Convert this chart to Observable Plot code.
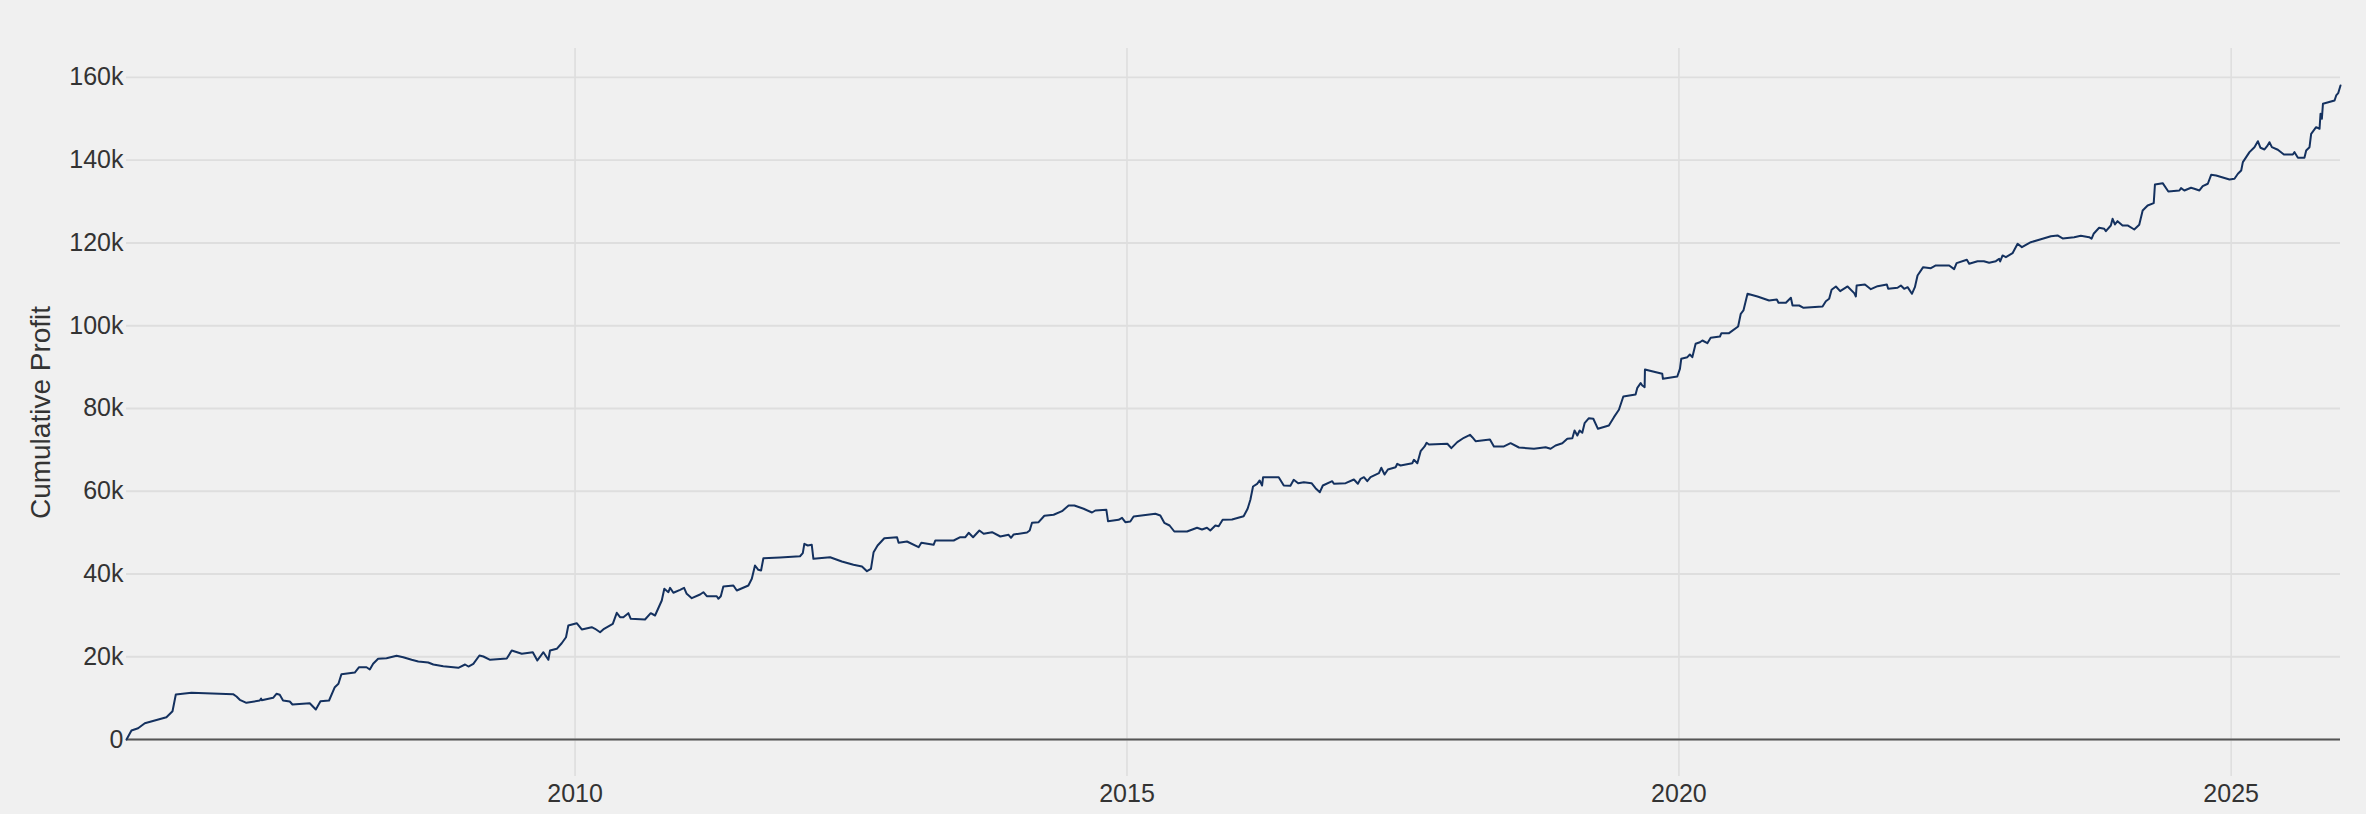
<!DOCTYPE html>
<html>
<head>
<meta charset="utf-8">
<script src="https://cdn.jsdelivr.net/npm/d3@7"></script>
<script src="https://cdn.jsdelivr.net/npm/@observablehq/plot@0.6"></script>
<style>
  html, body { margin: 0; padding: 0; background: #f0f0f0; }
  #chart { width: 2366px; height: 814px; }
</style>
</head>
<body>
<div id="chart"></div>
<script>
// Dates as decimal years, cumulative profit in dollars
const dateYears = [
2005.937,2005.982,2006.042,2006.103,2006.299,2006.354,2006.384,2006.526,2006.903,2006.934,
2006.964,2007.024,2007.145,2007.157,2007.163,2007.266,2007.296,2007.326,2007.356,2007.417,
2007.441,2007.598,2007.653,2007.695,2007.773,2007.825,2007.858,2007.885,2008.006,2008.045,
2008.112,2008.142,2008.172,2008.217,2008.293,2008.384,2008.444,2008.520,2008.580,2008.670,
2008.716,2008.806,2008.942,2009.003,2009.033,2009.078,2009.133,2009.169,2009.230,2009.381,
2009.426,2009.517,2009.617,2009.658,2009.713,2009.758,2009.773,2009.834,2009.879,2009.918,
2009.939,2010.015,2010.061,2010.151,2010.181,2010.227,2010.263,2010.342,2010.378,2010.408,
2010.438,2010.483,2010.505,2010.634,2010.686,2010.725,2010.786,2010.809,2010.846,2010.861,
2010.891,2010.952,2010.988,2011.012,2011.058,2011.133,2011.163,2011.194,2011.284,2011.299,
2011.321,2011.344,2011.435,2011.466,2011.571,2011.602,2011.631,2011.661,2011.686,2011.707,
2011.858,2012.039,2012.064,2012.078,2012.109,2012.145,2012.160,2012.311,2012.417,2012.522,
2012.599,2012.644,2012.680,2012.704,2012.740,2012.801,2012.916,2012.930,2013.006,2013.111,
2013.136,2013.247,2013.263,2013.429,2013.489,2013.535,2013.565,2013.605,2013.662,2013.701,
2013.777,2013.852,2013.927,2013.949,2013.973,2014.094,2014.118,2014.139,2014.199,2014.251,
2014.335,2014.411,2014.471,2014.523,2014.607,2014.683,2014.713,2014.813,2014.828,2014.924,
2014.955,2014.985,2015.030,2015.060,2015.257,2015.302,2015.338,2015.386,2015.429,2015.544,
2015.635,2015.680,2015.725,2015.755,2015.801,2015.831,2015.867,2015.952,2016.057,2016.093,
2016.118,2016.142,2016.179,2016.202,2016.224,2016.233,2016.374,2016.420,2016.480,2016.510,
2016.550,2016.601,2016.671,2016.707,2016.746,2016.773,2016.858,2016.873,2016.979,2017.054,
2017.090,2017.115,2017.145,2017.175,2017.205,2017.281,2017.302,2017.332,2017.362,2017.432,
2017.447,2017.477,2017.583,2017.598,2017.629,2017.659,2017.695,2017.713,2017.734,2017.901,
2017.937,2017.991,2018.051,2018.106,2018.127,2018.157,2018.287,2018.323,2018.414,2018.474,
2018.550,2018.686,2018.792,2018.837,2018.882,2018.943,2018.988,2019.034,2019.054,2019.079,
2019.100,2019.124,2019.145,2019.184,2019.224,2019.266,2019.365,2019.411,2019.456,2019.496,
2019.607,2019.623,2019.653,2019.668,2019.689,2019.692,2019.728,2019.849,2019.855,2019.985,
2020.009,2020.021,2020.076,2020.099,2020.121,2020.151,2020.190,2020.212,2020.257,2020.287,
2020.371,2020.384,2020.453,2020.535,2020.559,2020.583,2020.620,2020.710,2020.815,2020.885,
2020.900,2020.967,2021.012,2021.027,2021.087,2021.127,2021.299,2021.329,2021.359,2021.381,
2021.420,2021.459,2021.526,2021.586,2021.601,2021.608,2021.683,2021.737,2021.798,2021.882,
2021.894,2021.979,2022.009,2022.039,2022.070,2022.109,2022.136,2022.160,2022.211,2022.281,
2022.326,2022.447,2022.492,2022.514,2022.607,2022.628,2022.704,2022.761,2022.809,2022.870,
2022.900,2022.909,2022.931,2022.961,2023.021,2023.067,2023.106,2023.187,2023.278,2023.369,
2023.429,2023.475,2023.580,2023.640,2023.716,2023.737,2023.756,2023.806,2023.852,2023.867,
2023.912,2023.928,2023.949,2023.973,2024.018,2024.064,2024.124,2024.169,2024.200,2024.245,
2024.300,2024.311,2024.381,2024.432,2024.532,2024.547,2024.577,2024.637,2024.667,2024.713,
2024.743,2024.789,2024.819,2024.864,2024.985,2025.030,2025.061,2025.091,2025.106,2025.136,
2025.166,2025.211,2025.242,2025.266,2025.302,2025.326,2025.347,2025.369,2025.423,2025.478,
2025.559,2025.574,2025.605,2025.664,2025.680,2025.710,2025.725,2025.770,2025.801,2025.810,
2025.822,2025.832,2025.937,2025.952,2025.970,2025.991
];
const cumulativeProfit = [
0,2180,2730,3940,5390,6840,10880,11290,10950,10390,
9600,8870,9430,9910,9500,10080,11050,10800,9430,9180,
8460,8770,7250,9260,9430,12640,13460,15780,16190,17470,
17470,16920,18300,19500,19650,20230,19890,19260,18850,18610,
18130,17720,17330,18130,17640,18300,20300,20060,19260,19580,
21510,20710,21100,19090,21100,19260,21510,21920,23270,24720,
27550,28110,26590,27140,26760,25930,26760,27960,30620,29560,
29560,30530,29170,29000,30530,29970,33590,36420,35600,36660,
35460,36180,36660,35210,34150,35050,35600,34630,34630,34010,
34630,36980,37220,36010,37220,38840,42050,41010,40850,43820,
43990,44300,45030,47300,46890,47060,43670,44060,43020,42220,
41810,40680,41260,45270,46890,48650,48890,47540,47850,46480,
47540,47060,48100,48100,48890,48890,49960,48890,50510,49720,
50100,49060,49470,48750,49550,50030,50510,52370,52520,54070,
54310,55180,56560,56560,55760,54860,55350,55520,52760,53100,
53580,52520,52690,53900,54550,54140,52370,51720,50270,50270,
51170,50760,51170,50510,51720,51550,53100,53170,53970,55760,
57930,61150,61800,62600,61390,63400,63400,61390,61320,62770,
61950,62190,61950,60740,59770,61390,62430,61800,61950,62840,
61800,63010,63400,62430,63400,64360,65670,64050,65260,65810,
66630,66220,66780,67600,66780,69680,70820,71710,71300,71470,
70410,71860,72920,73640,73060,72100,72510,70820,70820,71610,
70570,70260,70650,70260,71060,71610,72680,72820,74680,73470,
74680,74130,76450,77660,77510,75090,75890,77900,79680,82900,
83380,85000,86120,85560,85150,89430,89180,88390,87180,87730,
89590,92010,92400,93050,92400,95640,96020,96430,95780,97090,
97400,98200,98200,99820,102890,103690,107720,107070,106100,106340,
105550,105550,106750,104890,104890,104340,104650,105930,106510,108690,
109490,108350,109490,107870,107070,109730,109970,108830,109560,109970,
108930,109170,109730,108930,109320,107720,109320,112140,114150,113910,
114560,114560,113670,115120,115940,114970,115600,115600,115210,115600,
116180,115530,116980,116570,117530,119810,118990,120190,120920,121640,
121810,121090,121400,121740,121400,121010,122220,123670,123430,122850,
124230,125850,124470,125270,124230,124230,123260,124400,127850,129060,
129620,134140,134450,132450,132690,133250,132690,133340,133100,132690,
133730,134310,136480,136310,135350,135510,136730,137520,139530,140740,
141950,143150,144600,143010,142600,143400,144360,143150,142530,141390,
141390,141950,140590,140590,142360,143150,146390,147990,147600,151230,
150000,153640,154440,155650,156200,158070
];
const xTickYears = [2010, 2015, 2020, 2025];
const yTicks = [0, 20000, 40000, 60000, 80000, 100000, 120000, 140000, 160000];
const yTickLabels = ["0", "20k", "40k", "60k", "80k", "100k", "120k", "140k", "160k"];
const yTitle = "Cumulative Profit";

function yearToDate(t) {
  const y = Math.floor(t);
  const a = Date.UTC(y, 0, 1), b = Date.UTC(y + 1, 0, 1);
  return new Date(a + (t - y) * (b - a));
}

const table = dateYears.map((t, i) => ({date: yearToDate(t), profit: cumulativeProfit[i]}));
const xTicks = xTickYears.map(y => new Date(Date.UTC(y, 0, 1)));

const font = "'Liberation Sans', Arial, Helvetica, sans-serif";
const textColor = "#333333";
const gridColor = "#dedede";

const chart = Plot.plot({
  width: 2366,
  height: 814,
  marginTop: 48,
  marginBottom: 38,
  marginLeft: 126,
  marginRight: 26,
  style: {background: "#f0f0f0", fontFamily: font, fontSize: "25px", color: textColor, overflow: "visible"},
  x: {type: "utc", domain: [table[0].date, table[table.length - 1].date]},
  y: {domain: [-8940, 167000]},
  marks: [
    Plot.gridY(yTicks, {stroke: gridColor, strokeOpacity: 1, strokeWidth: 1.8}),
    Plot.gridX(xTicks, {stroke: gridColor, strokeOpacity: 1, strokeWidth: 1.6}),
    Plot.axisY(yTicks, {tickSize: 0, tickPadding: 3, fontSize: 25, label: null,
      tickFormat: d => yTickLabels[yTicks.indexOf(d)]}),
    Plot.axisX(xTicks, {tickSize: 0, tickPadding: 8, fontSize: 25, label: null, tickFormat: d3.utcFormat("%Y")}),
    Plot.ruleY([0], {stroke: "#555555", strokeWidth: 2}),
    Plot.line(table, {x: "date", y: "profit", stroke: "#14315f", strokeWidth: 2}),
    Plot.text([yTitle], {frameAnchor: "left", textAnchor: "middle", lineAnchor: "middle", rotate: -90, dx: -85, fontSize: 28, fill: textColor, fontFamily: font})
  ]
});
document.getElementById("chart").appendChild(chart);
</script>
</body>
</html>
